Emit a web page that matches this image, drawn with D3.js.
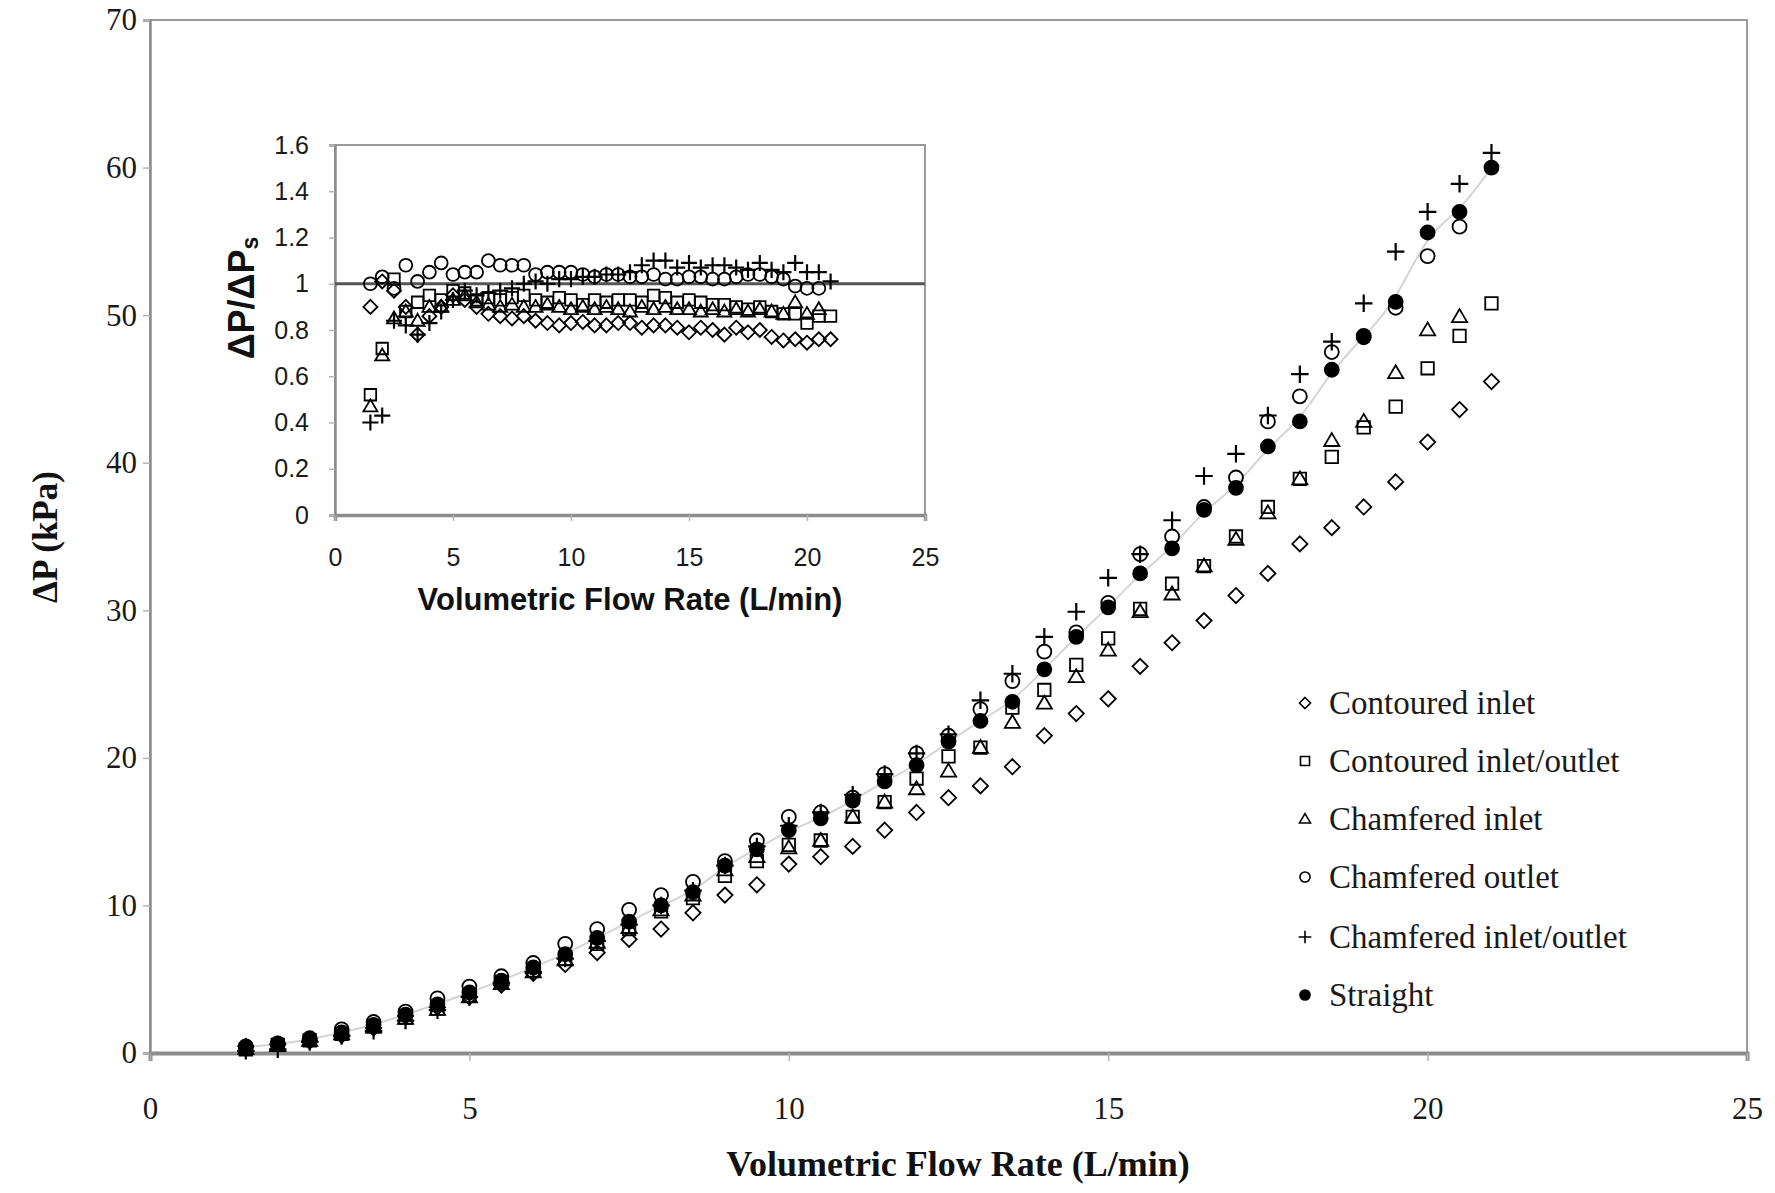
<!DOCTYPE html>
<html><head><meta charset="utf-8">
<script src="https://cdn.jsdelivr.net/npm/d3@7"></script>
<style>body{margin:0;background:#fff}</style>
</head><body>
<svg id="c" width="1775" height="1193"></svg>
<script>
// ---------- DATA ----------
const flowRates = [1.5,2,2.5,3,3.5,4,4.5,5,5.5,6,6.5,7,7.5,8,8.5,9,9.5,10,10.5,11,11.5,12,12.5,13,13.5,14,14.5,15,15.5,16,16.5,17,17.5,18,18.5,19,19.5,20,20.5,21];

const contouredInlet = [0.45,0.6,0.8,1.2,1.7,2.5,3.1,3.8,4.6,5.4,6.0,6.8,7.7,8.4,9.5,10.7,11.4,12.8,13.3,14.0,15.1,16.3,17.3,18.1,19.4,21.5,23.0,24.0,26.2,27.8,29.3,31.0,32.5,34.5,35.6,37.0,38.7,41.4,43.6,45.5];
const contouredInletOutlet = [0.25,0.55,0.85,1.3,1.8,2.4,3.0,3.9,4.8,5.6,6.4,7.4,8.4,9.6,10.5,12.0,13.0,14.1,14.4,16.0,17.0,18.6,20.1,20.7,23.4,24.6,26.3,28.1,30.1,31.8,33.0,35.0,37.0,38.9,40.4,42.4,43.8,46.4,48.6,50.8];
const chamferedInlet = [0.3,0.5,0.85,1.3,1.75,2.35,2.95,3.8,4.7,5.5,6.3,7.5,8.5,9.7,10.7,12.4,13.3,13.9,14.4,16.0,17.0,17.9,19.1,20.7,22.4,23.7,25.5,27.3,29.9,31.1,33.0,34.8,36.6,38.9,41.5,42.8,46.1,49.0,49.9];
const chamferedOutlet = [0.45,0.65,1.0,1.6,2.1,2.8,3.7,4.5,5.2,6.1,7.4,8.4,9.7,10.7,11.6,13.0,14.4,16.0,16.3,17.3,18.9,20.3,21.5,23.3,25.2,27.2,28.5,30.5,33.8,35.0,37.0,39.0,42.8,44.5,47.5,48.6,50.5,54.0,56.0];
const chamferedInletOutlet = [0.15,0.25,0.75,1.15,1.5,2.2,2.9,3.8,4.75,5.5,6.4,7.6,8.7,10.0,11.0,12.7,14.0,15.4,16.3,17.5,18.9,20.3,21.6,23.9,25.7,28.2,29.9,32.2,33.8,36.1,39.1,40.6,43.2,46.0,48.2,50.8,54.3,57.0,58.9,61.0];
const straight = [0.4,0.6,0.9,1.4,1.9,2.6,3.3,4.1,4.9,5.8,6.7,7.8,8.9,10.0,10.9,12.7,13.8,15.1,15.9,17.1,18.4,19.5,21.1,22.5,23.8,26.0,28.2,30.2,32.5,34.2,36.8,38.3,41.1,42.8,46.3,48.5,50.9,55.6,57.0,60.0];

// inset: pressure-drop ratio relative to straight channel
const ratioContouredInlet = [0.90,1.01,0.97,0.90,0.78,0.86,0.90,0.95,0.93,0.90,0.87,0.86,0.85,0.86,0.84,0.83,0.82,0.83,0.835,0.82,0.82,0.83,0.83,0.81,0.82,0.82,0.81,0.79,0.81,0.80,0.78,0.81,0.79,0.80,0.77,0.755,0.76,0.745,0.76,0.76];
const ratioContouredInletOutlet = [0.52,0.72,1.02,0.88,0.92,0.95,0.93,0.97,0.96,0.93,0.94,0.93,0.94,0.95,0.93,0.92,0.94,0.93,0.91,0.93,0.92,0.93,0.93,0.92,0.95,0.94,0.92,0.93,0.92,0.91,0.91,0.90,0.89,0.90,0.88,0.87,0.87,0.83,0.86,0.86];
const ratioChamferedInlet = [0.47,0.69,0.85,0.88,0.84,0.90,0.90,0.93,0.95,0.92,0.91,0.90,0.91,0.90,0.90,0.91,0.90,0.89,0.90,0.89,0.90,0.89,0.88,0.90,0.89,0.90,0.89,0.89,0.88,0.89,0.88,0.89,0.88,0.89,0.88,0.87,0.92,0.87,0.89];
const ratioChamferedOutlet = [1.00,1.03,0.98,1.08,1.01,1.05,1.09,1.04,1.05,1.05,1.10,1.08,1.08,1.08,1.04,1.05,1.05,1.05,1.04,1.03,1.04,1.04,1.03,1.03,1.04,1.02,1.02,1.03,1.03,1.02,1.02,1.03,1.04,1.04,1.03,1.02,0.99,0.98,0.98];
const ratioChamferedInletOutlet = [0.40,0.43,0.84,0.82,0.78,0.83,0.88,0.93,0.97,0.95,0.96,0.97,0.98,1.00,1.01,1.00,1.02,1.02,1.03,1.03,1.04,1.04,1.05,1.08,1.10,1.10,1.07,1.09,1.07,1.08,1.08,1.07,1.06,1.09,1.06,1.05,1.09,1.05,1.05,1.01];
const ratioReference = 1;

const mainXTicks = [0,5,10,15,20,25];
const mainYTicks = [0,10,20,30,40,50,60,70];
const insetXTicks = [0,5,10,15,20,25];
const insetYTicks = [0,0.2,0.4,0.6,0.8,1,1.2,1.4,1.6];
const insetYTickLabels = ["0","0.2","0.4","0.6","0.8","1","1.2","1.4","1.6"];

const seriesNames = ["Contoured inlet","Contoured inlet/outlet","Chamfered inlet","Chamfered outlet","Chamfered inlet/outlet","Straight"];
const seriesShapes = ["diamond","square","triangle","circle","plus","dot"];

// ---------- DRAWING ----------
const svg = d3.select("#c");
const SERIF = "'Liberation Serif','Times New Roman',serif";
const SANS = "'Liberation Sans',Arial,sans-serif";

function shapePath(shape, r) {
  switch (shape) {
    case "diamond": return `M0,${-r}L${r},0L0,${r}L${-r},0Z`;
    case "square": return `M${-r*0.82},${-r*0.82}H${r*0.82}V${r*0.82}H${-r*0.82}Z`;
    case "triangle": { const h = r*1.7; return `M0,${-h*0.58}L${r},${h*0.42}L${-r},${h*0.42}Z`; }
    case "circle": case "dot": return d3.arc()({innerRadius:0,outerRadius:r*0.92,startAngle:0,endAngle:2*Math.PI});
    case "plus": return `M${-r*1.15},0H${r*1.15}M0,${-r*1.15}V${r*1.15}`;
  }
}
function drawMarkers(g, xs, ys, xScale, yScale, shape, r, sw) {
  g.selectAll(null).data(ys.map((v,i)=>[xs[i],v])).enter().append("path")
    .attr("transform", d=>`translate(${xScale(d[0])},${yScale(d[1])})`)
    .attr("d", shapePath(shape, r))
    .attr("fill", shape==="dot" ? "#000" : "none")
    .attr("stroke", "#000")
    .attr("stroke-width", shape==="plus" ? sw+0.4 : sw);
}

// ----- main chart -----
const M = {left:150, right:1747, top:20, bottom:1053};
const x = d3.scaleLinear().domain([0,25]).range([M.left, M.right]);
const y = d3.scaleLinear().domain([0,70]).range([M.bottom, M.top]);

svg.append("rect").attr("x",M.left).attr("y",M.top).attr("width",M.right-M.left).attr("height",M.bottom-M.top)
  .attr("fill","#fff").attr("stroke","#9a9a9a").attr("stroke-width",2);

const xAxisG = svg.append("g").attr("transform",`translate(0,${M.bottom})`)
  .call(d3.axisBottom(x).tickValues(mainXTicks).tickSize(8).tickPadding(36).tickFormat(d3.format("d")));
const yAxisG = svg.append("g").attr("transform",`translate(${M.left},0)`)
  .call(d3.axisLeft(y).tickValues(mainYTicks).tickSize(7).tickPadding(6).tickFormat(d3.format("d")));
[xAxisG,yAxisG].forEach(g=>{
  g.select(".domain").attr("stroke","#8c8c8c").attr("stroke-width",2.5);
  g.selectAll(".tick line").attr("stroke","#b5b5b5").attr("stroke-width",1.5);
  g.selectAll(".tick text").attr("font-family",SERIF).attr("font-size",31).attr("fill","#1a1a1a");
});
xAxisG.select(".domain").attr("stroke-width",4);

svg.append("text").attr("x",958).attr("y",1164)
  .attr("text-anchor","middle").attr("dominant-baseline","central")
  .attr("font-family",SERIF).attr("font-weight","bold").attr("font-size",36).attr("fill","#111")
  .text("Volumetric Flow Rate (L/min)");
svg.append("text").attr("transform","translate(45,537) rotate(-90)")
  .attr("text-anchor","middle").attr("dominant-baseline","central")
  .attr("font-family",SERIF).attr("font-weight","bold").attr("font-size",35).attr("fill","#111")
  .text("ΔP (kPa)");

// light grey trend through straight series
svg.append("path").datum(straight.map((v,i)=>[flowRates[i],v]))
  .attr("d", d3.line().x(d=>x(d[0])).y(d=>y(d[1])).curve(d3.curveBasis))
  .attr("fill","none").attr("stroke","#d4d4d4").attr("stroke-width",2);

const mainSeries = [contouredInlet, contouredInletOutlet, chamferedInlet, chamferedOutlet, chamferedInletOutlet, straight];
const gMain = svg.append("g");
mainSeries.forEach((s,i)=>drawMarkers(gMain, flowRates, s, x, y, seriesShapes[i], 7.6, 1.8));

// legend
const legendY = [703,761,819,877,937,995];
seriesNames.forEach((name,i)=>{
  const g = svg.append("g").attr("transform",`translate(1305,${legendY[i]})`);
  g.append("path").attr("d",shapePath(seriesShapes[i],5.5))
    .attr("fill",seriesShapes[i]==="dot"?"#000":"none").attr("stroke","#000").attr("stroke-width",1.6);
  g.append("text").attr("x",24).attr("y",0).attr("dominant-baseline","central")
    .attr("font-family",SERIF).attr("font-size",33).attr("fill","#1a1a1a").text(name);
});

// ----- inset chart -----
const I = {left:335, right:925, top:145, bottom:515};
const xi = d3.scaleLinear().domain([0,25]).range([I.left, I.right]);
const yi = d3.scaleLinear().domain([0,1.6]).range([I.bottom, I.top]);

svg.append("rect").attr("x",I.left).attr("y",I.top).attr("width",I.right-I.left).attr("height",I.bottom-I.top)
  .attr("fill","#fff").attr("stroke","#9a9a9a").attr("stroke-width",2);

const xiG = svg.append("g").attr("transform",`translate(0,${I.bottom})`)
  .call(d3.axisBottom(xi).tickValues(insetXTicks).tickSize(6).tickPadding(27).tickFormat(d3.format("d")));
const yiG = svg.append("g").attr("transform",`translate(${I.left},0)`)
  .call(d3.axisLeft(yi).tickValues(insetYTicks).tickSize(6).tickPadding(20).tickFormat((d,i)=>insetYTickLabels[i]));
[xiG,yiG].forEach(g=>{
  g.select(".domain").attr("stroke","#8c8c8c").attr("stroke-width",2.5);
  g.selectAll(".tick line").attr("stroke","#b5b5b5").attr("stroke-width",1.5);
  g.selectAll(".tick text").attr("font-family",SANS).attr("font-size",25).attr("fill","#1a1a1a");
});
xiG.select(".domain").attr("stroke-width",3.5);

// reference line at ratio 1
svg.append("line").attr("x1",xi(0)).attr("x2",xi(25)).attr("y1",yi(ratioReference)).attr("y2",yi(ratioReference))
  .attr("stroke","#555").attr("stroke-width",3);

const insetSeries = [ratioContouredInlet, ratioContouredInletOutlet, ratioChamferedInlet, ratioChamferedOutlet, ratioChamferedInletOutlet];
const gInset = svg.append("g");
insetSeries.forEach((s,i)=>drawMarkers(gInset, flowRates, s, xi, yi, seriesShapes[i], 7, 1.8));

svg.append("text").attr("x",630).attr("y",599)
  .attr("text-anchor","middle").attr("dominant-baseline","central")
  .attr("font-family",SANS).attr("font-weight","bold").attr("font-size",31).attr("fill","#111")
  .text("Volumetric Flow Rate (L/min)");
const yt = svg.append("text").attr("transform","translate(241,298) rotate(-90)")
  .attr("text-anchor","middle").attr("dominant-baseline","central")
  .attr("font-family",SANS).attr("font-weight","bold").attr("font-size",36).attr("fill","#111");
yt.append("tspan").text("ΔP/ΔP");
yt.append("tspan").attr("font-size",23).attr("dy",9).text("s");
</script>
</body></html>
